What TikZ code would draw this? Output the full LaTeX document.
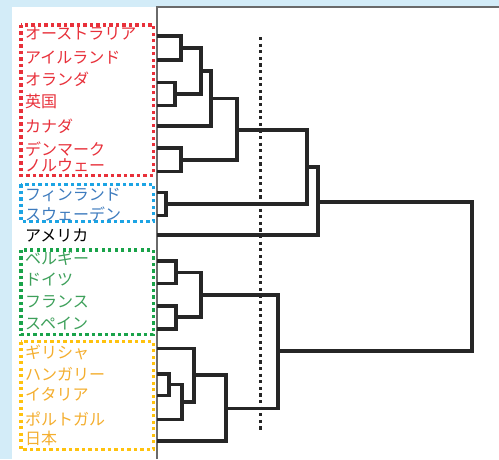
\documentclass[tikz,border=0pt]{standalone}
\usepackage{fontspec}
\newfontfamily\jp{Noto Sans CJK JP}
\definecolor{bgblue}{HTML}{D3ECF8}
\definecolor{treeink}{HTML}{262626}
\definecolor{axisgray}{HTML}{6A6A6A}
\definecolor{cred}{HTML}{E8303A}
\definecolor{cblue}{HTML}{1CA4E4}
\definecolor{tblue}{HTML}{3D7BBE}
\definecolor{cgreen}{HTML}{1AA34A}
\definecolor{tgreen}{HTML}{3DA05A}
\definecolor{cyellow}{HTML}{FFC20E}
\definecolor{tyellow}{HTML}{F4AE2E}
\begin{document}
\begin{tikzpicture}[x=1pt,y=-1pt,
  lbl/.style={anchor=west, inner sep=0pt, font=\jp\fontsize{16}{16}\selectfont},
  tree/.style={line width=3.5pt, draw=treeink, line join=miter},
  grpbox/.style={line width=3.4pt, dash pattern=on 3.3pt off 3.2pt}]
\useasboundingbox (0,0) rectangle (499,459);
\fill[bgblue] (0,0) rectangle (499,459);
\fill[white] (12,7) rectangle (499,459);
\draw[axisgray, line width=1.8pt] (157,459) -- (157,7) -- (499,7);

% group boxes
\draw[grpbox, cred] (20.8,24.8) rectangle (153.5,175.2);
\draw[grpbox, cblue] (20.8,184.2) rectangle (153.5,221.2);
\draw[grpbox, cgreen] (20.8,249.8) rectangle (153.5,334.6);
\draw[grpbox, cyellow] (20.8,341.6) rectangle (153.5,449.6);

% labels
\node[lbl, text=cred] (l1) at (25,33.7) {オーストラリア};
\node[lbl, text=cred] (l2) at (25,58) {アイルランド};
\node[lbl, text=cred] (l3) at (25,79.5) {オランダ};
\node[lbl, text=cred] (l4) at (25,101) {英国};
\node[lbl, text=cred] (l5) at (25,126.5) {カナダ};
\node[lbl, text=cred] (l6) at (25,149) {デンマーク};
\node[lbl, text=cred] (l7) at (25,165.5) {ノルウェー};
\node[lbl, text=tblue] (l8) at (25,194.5) {フィンランド};
\node[lbl, text=tblue] (l9) at (25,214) {スウェーデン};
\node[lbl, text=black] (l10) at (25,236) {アメリカ};
\node[lbl, text=tgreen] (l11) at (25,258.5) {ベルギー};
\node[lbl, text=tgreen] (l12) at (25,280) {ドイツ};
\node[lbl, text=tgreen] (l13) at (25,301.5) {フランス};
\node[lbl, text=tgreen] (l14) at (25,323) {スペイン};
\node[lbl, text=tyellow] (l15) at (25,352.5) {ギリシャ};
\node[lbl, text=tyellow] (l16) at (25,374.5) {ハンガリー};
\node[lbl, text=tyellow] (l17) at (25,394) {イタリア};
\node[lbl, text=tyellow] (l18) at (25,419.5) {ポルトガル};
\node[lbl, text=tyellow] (l19) at (25,438.5) {日本};

% leaf ends on the axis
\coordinate (c1) at (157,36);
\coordinate (c2) at (157,60);
\coordinate (c3) at (157,82.5);
\coordinate (c4) at (157,105.5);
\coordinate (c5) at (157,126);
\coordinate (c6) at (157,148);
\coordinate (c7) at (157,171.5);
\coordinate (c8) at (157,192.5);
\coordinate (c9) at (157,215.5);
\coordinate (c10) at (157,235);
\coordinate (c11) at (157,261);
\coordinate (c12) at (157,283.5);
\coordinate (c13) at (157,306);
\coordinate (c14) at (157,329);
\coordinate (c15) at (157,348.5);
\coordinate (c16) at (157,374);
\coordinate (c17) at (157,395.5);
\coordinate (c18) at (157,419.5);
\coordinate (c19) at (157,441);

% merge points
\coordinate (mA) at (181,48);
\coordinate (mB) at (175,94);
\coordinate (mC) at (201,71);
\coordinate (mD) at (211,98.5);
\coordinate (mE) at (181,160);
\coordinate (mF) at (237,130);
\coordinate (mG) at (166,204);
\coordinate (mH) at (307,167);
\coordinate (mI) at (318,202);
\coordinate (mJ) at (176,272.5);
\coordinate (mK) at (176,317);
\coordinate (mM) at (201,295);
\coordinate (mN) at (169,384.5);
\coordinate (mO) at (182,402);
\coordinate (mP) at (194,375);
\coordinate (mQ) at (226,408.5);
\coordinate (mR) at (278,351);
\coordinate (mS) at (472,276);

% cut line
\draw[treeink, line width=3pt, dash pattern=on 3.2pt off 3.4pt] (260,37) -- (260,432);

% dendrogram
\draw[tree] (c1) -| (mA) |- (c2);
\draw[tree] (c3) -| (mB) |- (c4);
\draw[tree] (mA) -| (mC) |- (mB);
\draw[tree] (mC) -| (mD) |- (c5);
\draw[tree] (c6) -| (mE) |- (c7);
\draw[tree] (mD) -| (mF) |- (mE);
\draw[tree] (c8) -| (mG) |- (c9);
\draw[tree] (mF) -| (mH) |- (mG);
\draw[tree] (mH) -| (mI) |- (c10);
\draw[tree] (c11) -| (mJ) |- (c12);
\draw[tree] (c13) -| (mK) |- (c14);
\draw[tree] (mJ) -| (mM) |- (mK);
\draw[tree] (c16) -| (mN) |- (c17);
\draw[tree] (mN) -| (mO) |- (c18);
\draw[tree] (c15) -| (mP) |- (mO);
\draw[tree] (mP) -| (mQ) |- (c19);
\draw[tree] (mM) -| (mR) |- (mQ);
\draw[tree] (mI) -| (mS) |- (mR);
\end{tikzpicture}
\end{document}
